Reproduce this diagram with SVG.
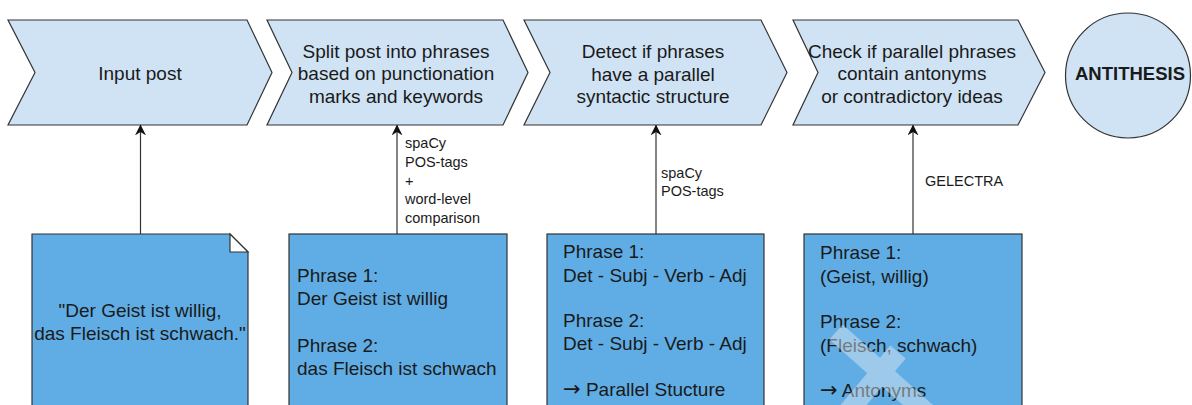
<svg xmlns="http://www.w3.org/2000/svg" width="1192" height="405" viewBox="0 0 1192 405">
<defs>
<style>
.chev{fill:#cfe3f5;stroke:#333;stroke-width:1.2}
.box{fill:#60ade5;stroke:#333;stroke-width:1.2}
.t{font-family:"Liberation Sans",Arial,sans-serif;font-size:19px;fill:#1a1a1a}
.c{text-anchor:middle}
.s{font-family:"Liberation Sans",Arial,sans-serif;font-size:14.5px;fill:#1a1a1a}
.b{font-weight:bold;font-size:18.5px}
.ar{font-family:"DejaVu Sans",sans-serif;font-size:21px}
.edge{stroke:#333;stroke-width:1.2;fill:none;marker-end:url(#arr)}
</style>
<marker id="arr" viewBox="0 0 10 10" refX="9" refY="5" markerWidth="11" markerHeight="11" markerUnits="userSpaceOnUse" orient="auto">
<path d="M0,0 L10,5 L0,10 L3,5 Z" fill="#111"/>
</marker>
</defs>
<rect width="1192" height="405" fill="#fff"/>

<g id="step1">
<polygon class="chev" points="8,20 247,20 272,72.5 247,125 8,125 35,72.5"/>
<text class="t c" x="140" y="80">Input post</text>
</g>
<g id="step2">
<polygon class="chev" points="267,20 503,20 528,72.5 503,125 267,125 292,72.5"/>
<text class="t c" x="396" y="57.5">Split post into phrases</text>
<text class="t c" x="396" y="80">based on punctionation</text>
<text class="t c" x="396" y="102.5">marks and keywords</text>
</g>
<g id="step3">
<polygon class="chev" points="524,20 761,20 787,72.5 761,125 524,125 550,72.5"/>
<text class="t c" x="653" y="58">Detect if phrases</text>
<text class="t c" x="653" y="80.5">have a parallel</text>
<text class="t c" x="653" y="103">syntactic structure</text>
</g>
<g id="step4">
<polygon class="chev" points="793,20 1018,20 1045,72.5 1018,125 793,125 818,72.5"/>
<text class="t c" x="912" y="57.5">Check if parallel phrases</text>
<text class="t c" x="912" y="80">contain antonyms</text>
<text class="t c" x="912" y="102.5">or contradictory ideas</text>
</g>
<g id="result">
<circle class="chev" cx="1128" cy="75.5" r="62.5"/>
<text class="t c b" x="1130" y="80">ANTITHESIS</text>
</g>

<g id="input">
<path class="box" d="M32,234 H230 L248,252 V415 H32 Z"/>
<path d="M230,234 L248,252 H230 Z" fill="#fff" stroke="#333" stroke-width="1.2"/>
<text class="t c" x="140" y="317">"Der Geist ist willig,</text>
<text class="t c" x="140" y="339.5">das Fleisch ist schwach."</text>
</g>
<g id="phrases">
<rect class="box" x="289" y="234" width="218" height="181"/>
<text class="t" x="297" y="282">Phrase 1:</text>
<text class="t" x="297" y="305">Der Geist ist willig</text>
<text class="t" x="297" y="351.5">Phrase 2:</text>
<text class="t" x="297" y="375">das Fleisch ist schwach</text>
</g>
<g id="syntax">
<rect class="box" x="547" y="234" width="217" height="181"/>
<text class="t" x="563" y="258">Phrase 1:</text>
<text class="t" x="563" y="281.5">Det - Subj - Verb - Adj</text>
<text class="t" x="563" y="327">Phrase 2:</text>
<text class="t" x="563" y="350">Det - Subj - Verb - Adj</text>
<text class="t" x="563" y="396"><tspan class="ar">→</tspan> Parallel Stucture</text>
</g>
<g id="antonyms">
<rect class="box" x="804" y="234" width="218" height="181"/>
<text class="t" x="820" y="259">Phrase 1:</text>
<text class="t" x="820" y="282.5">(Geist, willig)</text>
<text class="t" x="820" y="328">Phrase 2:</text>
<text class="t" x="820" y="351.5">(Fleisch, schwach)</text>
<text class="t" x="820" y="397"><tspan class="ar">→</tspan> Antonyms</text>
<g opacity="0.45" stroke="#e8eef4" stroke-width="20" stroke-linecap="butt">
<line x1="836" y1="332" x2="928" y2="414"/>
<line x1="898" y1="352" x2="846" y2="414"/>
</g>
</g>

<g id="connectors">
<line class="edge" x1="140.5" y1="234" x2="140.5" y2="125.5"/>
<line class="edge" x1="397" y1="234" x2="397" y2="125.5"/>
<line class="edge" x1="656" y1="234" x2="656" y2="125.5"/>
<line class="edge" x1="913" y1="234" x2="913" y2="125.5"/>
<text class="s" x="405" y="148">spaCy</text>
<text class="s" x="405" y="167">POS-tags</text>
<text class="s" x="405" y="185.5">+</text>
<text class="s" x="405" y="204">word-level</text>
<text class="s" x="405" y="223">comparison</text>
<text class="s" x="661" y="178">spaCy</text>
<text class="s" x="661" y="195.5">POS-tags</text>
<text class="s" x="925" y="185.5">GELECTRA</text>
</g>
</svg>
